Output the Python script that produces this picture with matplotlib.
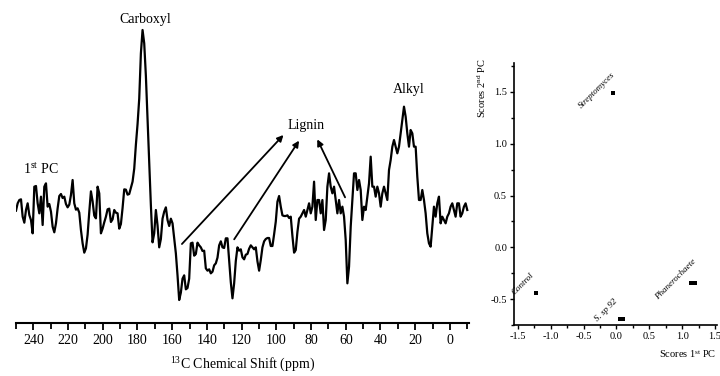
import numpy as np
import matplotlib
matplotlib.use("Agg")
import matplotlib.pyplot as plt
from matplotlib.ticker import MultipleLocator, FormatStrFormatter

plt.rcParams["font.family"] = "Liberation Serif"
plt.rcParams["mathtext.fontset"] = "custom"
plt.rcParams["mathtext.rm"] = "Liberation Serif"
plt.rcParams["mathtext.it"] = "Liberation Serif:italic"
plt.rcParams["axes.unicode_minus"] = False

pc1_loading = [
    0.18, 0.40, 0.50, 0.52, 0.00, -0.18, 0.20, 0.40, 0.05, -0.10,
    -0.50, 0.90, 0.92, 0.40, 0.10, 0.60, -0.25, 0.90, 1.00, 0.30,
    0.38, 0.15, -0.30, -0.47, -0.20, 0.25, 0.62, 0.68, 0.56, 0.60,
    0.38, 0.28, 0.36, 0.65, 1.10, 0.40, 0.21, 0.25, 0.12, -0.40,
    -0.80, -1.08, -0.95, -0.54, 0.14, 0.76, 0.46, 0.03, -0.05, 0.90,
    0.70, -0.50, -0.36, -0.17, 0.00, 0.22, 0.24, -0.16, -0.08, 0.20,
    0.12, 0.10, -0.36, -0.22, 0.26, 0.82, 0.81, 0.66, 0.68, 0.86,
    1.05, 1.44, 2.16, 2.78, 3.54, 4.90, 5.60, 5.20, 4.22, 2.90,
    1.56, 0.34, -0.77, -0.50, 0.20, -0.26, -0.92, -0.67, -0.06, 0.15,
    0.28, -0.10, -0.28, -0.06, -0.20, -0.66, -1.10, -1.76, -2.50, -2.28,
    -1.86, -1.76, -2.18, -2.14, -1.86, -0.80, -0.78, -1.17, -1.12, -0.78,
    -0.86, -0.92, -1.03, -1.02, -1.55, -1.62, -1.58, -1.70, -1.65, -1.46,
    -1.40, -1.23, -0.86, -0.74, -0.92, -0.94, -0.65, -0.65, -1.32, -1.97,
    -2.45, -2.00, -1.33, -0.92, -1.02, -0.98, -1.22, -1.28, -1.14, -1.12,
    -0.96, -0.86, -0.92, -0.98, -0.92, -1.34, -1.62, -1.30, -0.92, -0.74,
    -0.67, -0.64, -0.64, -0.88, -0.88, -0.53, -0.15, 0.45, 0.62, 0.30,
    0.04, 0.02, 0.02, 0.04, -0.04, 0.00, -0.58, -1.08, -1.00, -0.46,
    -0.06, 0.00, 0.10, 0.20, 0.00, 0.20, 0.40, 0.10, 0.30, 1.05,
    -0.10, 0.50, 0.50, 0.10, 0.50, -0.40, -0.10, 0.90, 1.30, 0.90,
    0.70, 0.90, 0.50, 0.10, 0.50, 0.10, 0.30, 0.00, -0.70, -2.00,
    -1.50, -0.30, 0.50, 1.30, 1.30, 0.80, 1.10, 0.80, -0.10, 0.30,
    0.20, 0.60, 1.00, 1.80, 0.90, 0.90, 0.60, 0.90, 0.70, 0.30,
    0.70, 0.90, 0.70, 0.50, 1.40, 1.70, 2.10, 2.30, 2.10, 1.90,
    2.10, 2.50, 2.90, 3.30, 3.00, 2.50, 2.10, 2.60, 2.50, 2.10,
    2.10, 1.20, 0.50, 0.50, 0.80, 0.50, 0.10, -0.50, -0.80, -0.90,
    -0.30, 0.30, 0.00, 0.40, 0.60, -0.20, 0.00, -0.10, -0.20, 0.00,
    0.10, 0.30, 0.40, 0.20, 0.00, 0.40, 0.40, 0.00, 0.10, 0.30,
    0.40, 0.20,
]
shift_ppm = np.linspace(250, -10, len(pc1_loading))

peak_names = ["Carboxyl", "Lignin", "Alkyl"]
peak_ppm = [175.5, 83.1, 24.0]
peak_y = [5.9, 2.72, 3.8]

# lignin arrows, tail -> head
arrow_tail_ppm = [154.4, 124.3, 60.4]
arrow_tail_y = [-0.82, -0.68, 0.58]
arrow_head_ppm = [95.9, 86.9, 76.4]
arrow_head_y = [2.45, 2.28, 2.32]

# PCA scores
score_pc1 = [-0.06, -1.23, 0.05, 0.10, 1.14, 1.19]
score_pc2 = [1.49, -0.44, -0.69, -0.69, -0.34, -0.34]
sample_names = ["Streptomyces", "Control", "S. sp 92", "Phanerochaete"]
sample_label_x = [-0.30, -1.42, -0.15, 0.90]
sample_label_y = [1.52, -0.35, -0.61, -0.31]

fig = plt.figure(figsize=(7.2, 3.76), dpi=100)

# loading spectrum
ax1 = fig.add_axes([16 / 720, 53 / 376, 453 / 720, 315 / 376])
ax1.plot(shift_ppm, pc1_loading, color="black", lw=1.6)
ax1.set_xlim(250, -11)
ax1.set_ylim(-3.19, 6.26)
for side in ["left", "top", "right"]:
    ax1.spines[side].set_visible(False)
ax1.spines["bottom"].set_linewidth(1.5)
ax1.set_yticks([])
ax1.xaxis.set_major_locator(MultipleLocator(20))
ax1.xaxis.set_minor_locator(MultipleLocator(10))
ax1.tick_params(axis="x", which="major", direction="out", length=5, width=1.3,
                labelsize=10, pad=3)
ax1.tick_params(axis="x", which="minor", direction="out", length=4, width=1.3)
ax1.set_xlabel(r"$^{13}$C Chemical Shift (ppm)", fontsize=10, labelpad=6)

for name, px, py in zip(peak_names, peak_ppm, peak_y):
    ax1.text(px, py, name, ha="center", va="center", fontsize=10)
ax1.text(246, 1.42, r"1$^{\rm st}$ PC", ha="left", va="center", fontsize=10)

for tx, ty, hx, hy in zip(arrow_tail_ppm, arrow_tail_y, arrow_head_ppm, arrow_head_y):
    ax1.annotate("", xy=(hx, hy), xytext=(tx, ty),
                 arrowprops=dict(arrowstyle="-|>", color="black", lw=1.3,
                                 mutation_scale=9, shrinkA=0, shrinkB=0))

# score plot
ax2 = fig.add_axes([514 / 720, 51 / 376, 203 / 720, 262 / 376])
ax2.scatter(score_pc1, score_pc2, marker="s", s=8, color="black", linewidths=0)
ax2.set_xlim(-1.56, 1.53)
ax2.set_ylim(-0.75, 1.78)
for side in ["top", "right"]:
    ax2.spines[side].set_visible(False)
ax2.spines["left"].set_linewidth(1.2)
ax2.spines["bottom"].set_linewidth(1.2)
ax2.xaxis.set_major_locator(MultipleLocator(0.5))
ax2.xaxis.set_minor_locator(MultipleLocator(0.25))
ax2.yaxis.set_major_locator(MultipleLocator(0.5))
ax2.yaxis.set_minor_locator(MultipleLocator(0.25))
ax2.xaxis.set_major_formatter(FormatStrFormatter("%.1f"))
ax2.yaxis.set_major_formatter(FormatStrFormatter("%.1f"))
ax2.tick_params(which="major", direction="out", length=3, width=1, labelsize=7.5, pad=2)
ax2.tick_params(which="minor", direction="out", length=2, width=1)

for name, lx, ly in zip(sample_names, sample_label_x, sample_label_y):
    ax2.text(lx, ly, name, rotation=45, fontstyle="italic", fontsize=6.5,
             ha="center", va="center", rotation_mode="anchor")

fig.text(482 / 720, 1 - 88 / 376, r"Scores 2$^{\rm nd}$ PC", rotation=90,
         ha="center", va="center", fontsize=7.5)
fig.text(688 / 720, 1 - 354 / 376, r"Scores 1$^{\rm st}$ PC",
         ha="center", va="center", fontsize=7.5)

fig.savefig("out.png", dpi=100)
